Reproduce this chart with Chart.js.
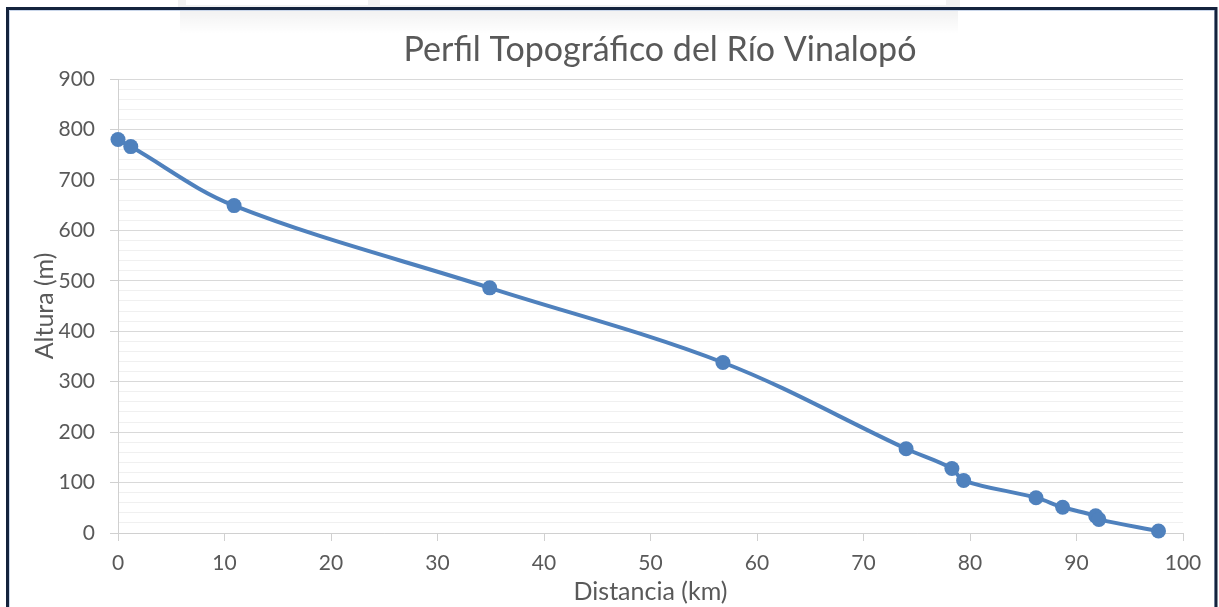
<!DOCTYPE html>
<html>
<head>
<meta charset="utf-8">
<script src="https://cdn.jsdelivr.net/npm/chart.js@4"></script>
<style>
  html, body { margin: 0; padding: 0; background: #ffffff; overflow: hidden; }
  #wrap { position: absolute; left: 0; top: 0; width: 1219px; height: 607px; }
</style>
</head>
<body>
<div id="wrap"><canvas id="c" width="1219" height="607"></canvas></div>
<script>
// ---- Data ----
const distancia = [0, 1.2, 10.9, 34.9, 56.8, 74.0, 78.3, 79.4, 86.2, 88.7, 91.8, 92.1, 97.7];
const altura    = [780, 766, 649, 486, 338, 167, 128, 104, 70, 51, 34, 27, 4];
const chartTitle = 'Perfil Topográfico del Río Vinalopó';
const xTitle = 'Distancia (km)';
const yTitle = 'Altura (m)';
const xTicks = [0, 10, 20, 30, 40, 50, 60, 70, 80, 90, 100];
const yTicks = [0, 100, 200, 300, 400, 500, 600, 700, 800, 900];

const points = distancia.map((d, i) => ({ x: d, y: altura[i] }));

const FONT = 'Lato, "Open Sans", "DejaVu Sans", sans-serif';
const TXT = '#595959';

const framePlugin = {
  id: 'frame',
  beforeDraw(chart) {
    const ctx = chart.ctx;
    ctx.save();
    ctx.fillStyle = '#ffffff';
    ctx.fillRect(0, 0, chart.width, chart.height);
    // faint shadow of an overlapping window near the top
    const g = ctx.createLinearGradient(0, 8, 0, 34);
    g.addColorStop(0, 'rgba(0,0,0,0.06)');
    g.addColorStop(1, 'rgba(0,0,0,0)');
    ctx.fillStyle = g;
    ctx.fillRect(180, 8, 778, 26);
    ctx.fillStyle = 'rgba(0,0,0,0.05)';
    ctx.fillRect(178, 0, 782, 7);
    ctx.fillStyle = '#ffffff';
    ctx.fillRect(186, 0, 182, 5);
    ctx.fillRect(380, 0, 566, 5);
    ctx.restore();
  },
  afterDraw(chart) {
    const ctx = chart.ctx;
    ctx.save();
    // chart title (Excel-style, centred over the whole chart object)
    ctx.fillStyle = TXT;
    ctx.font = '34px ' + FONT;
    ctx.textAlign = 'center';
    ctx.textBaseline = 'alphabetic';
    ctx.fillText(chartTitle, 660, 61);
    // window frame
    ctx.strokeStyle = '#c9d6ea';
    ctx.lineWidth = 1;
    ctx.strokeRect(9.5, 10.5, 1205, 700);
    ctx.strokeStyle = '#14233d';
    ctx.lineWidth = 3;
    ctx.strokeRect(7.5, 8.5, 1208.5, 700);
    ctx.restore();
  }
};

new Chart(document.getElementById('c'), {
  type: 'scatter',
  data: {
    datasets: [{
      data: points,
      showLine: true,
      borderColor: '#4f81bd',
      backgroundColor: '#4f81bd',
      borderWidth: 4,
      pointRadius: 7.5,
      pointHoverRadius: 7.5,
      pointBorderWidth: 0,
      tension: 0.35,
      clip: false
    }]
  },
  options: {
    responsive: false,
    animation: false,
    devicePixelRatio: 1,
    layout: { padding: { left: 20, right: 36, top: 79, bottom: 0 } },
    plugins: {
      legend: { display: false },
      tooltip: { enabled: false },
      title: { display: false }
    },
    scales: {
      x: {
        type: 'linear',
        min: 0, max: 100,
        afterFit(s) { s.height = 74; },
        afterBuildTicks(s) { s.ticks = xTicks.map(v => ({ value: v })); },
        ticks: {
          color: TXT,
          font: { family: FONT, size: 21 },
          padding: 10,
          maxRotation: 0,
          autoSkip: false
        },
        grid: {
          drawOnChartArea: false,
          drawTicks: true,
          tickLength: 8,
          tickColor: '#d0d0d0',
          color: '#d0d0d0'
        },
        border: { display: true, color: '#d0d0d0', width: 1 },
        title: {
          display: true,
          text: xTitle,
          color: TXT,
          font: { family: FONT, size: 25, lineHeight: 1.2 },
          padding: { top: 0, bottom: 0 }
        }
      },
      y: {
        type: 'linear',
        min: 0, max: 900,
        afterFit(s) { s.width = 98; },
        ticks: {
          stepSize: 20,
          autoSkip: false,
          color: TXT,
          font: { family: FONT, size: 21 },
          padding: 15,
          callback: (v) => (yTicks.includes(v) ? String(v) : '')
        },
        grid: {
          drawTicks: true,
          tickLength: 8,
          color: (c) => (c.tick && c.tick.value % 100 === 0 ? '#d9d9d9' : '#f0f0f0'),
          tickColor: (c) => (c.tick && c.tick.value % 100 === 0 ? '#d0d0d0' : 'rgba(0,0,0,0)'),
          lineWidth: 1
        },
        border: { display: true, color: '#d0d0d0', width: 1 },
        title: {
          display: true,
          text: yTitle,
          color: TXT,
          font: { family: FONT, size: 25, lineHeight: 1.2 },
          padding: { top: 10, bottom: 0 }
        }
      }
    }
  },
  plugins: [framePlugin]
});
</script>
</body>
</html>
